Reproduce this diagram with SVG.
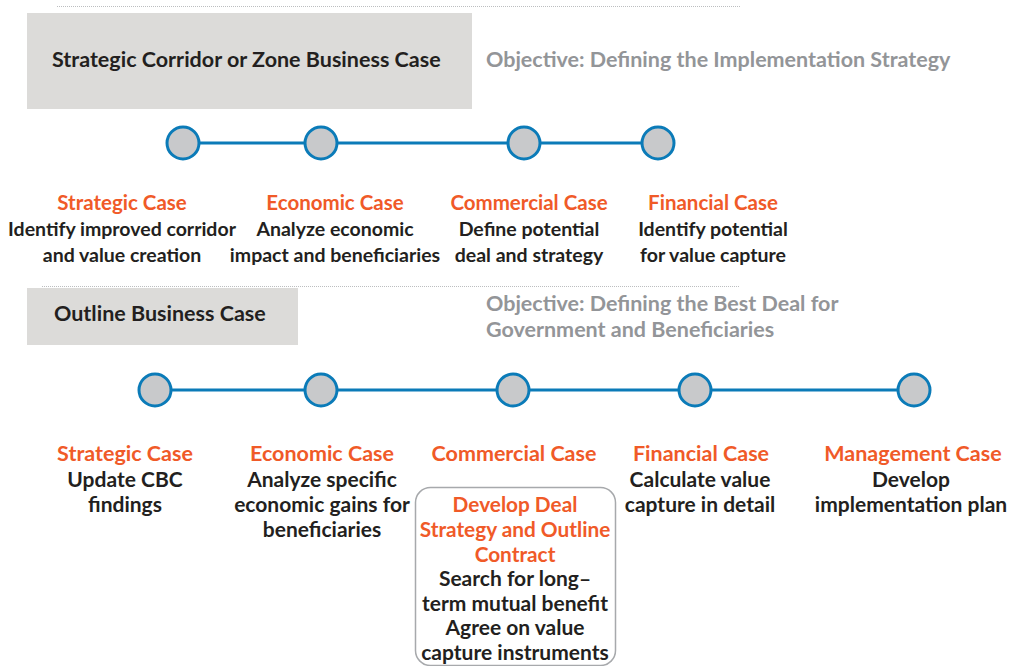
<svg xmlns="http://www.w3.org/2000/svg" width="1009" height="666" viewBox="0 0 1009 666">
<style>
text{font-family:Lato,"Open Sans","Liberation Sans",sans-serif;font-weight:bold}
.t{font-size:21.5px;fill:#231f20}
.obj{font-size:21.5px;fill:#939598}
.h{font-size:20.5px;fill:#f05a28;text-anchor:middle}
.b{font-size:19.5px;fill:#231f20;text-anchor:middle}
.h2{font-size:21.5px;fill:#f05a28;text-anchor:middle}
.b2{font-size:21px;fill:#231f20;text-anchor:middle}
.hb{font-size:20.8px;fill:#f05a28;text-anchor:middle}
.band{fill:#dcdbd9}
.dot{stroke:#bcbec0;stroke-width:1;stroke-dasharray:1 1;fill:none}
.node{fill:#c8c9cb;stroke:#0b7bb8;stroke-width:3}
.link{stroke:#0b7bb8;stroke-width:3;fill:none}
</style>
<rect width="1009" height="666" fill="#ffffff"/>
<g id="section1">
<line class="dot" x1="57" y1="6.5" x2="740" y2="6.5"/>
<rect class="band" x="27" y="13" width="445" height="96"/>
<text class="t" x="52" y="67">Strategic Corridor or Zone Business Case</text>
<text class="obj" x="486" y="67">Objective: Defining the Implementation Strategy</text>
</g>
<g id="connectors">
<line class="link" x1="183" y1="143" x2="658" y2="143"/>
<line class="link" x1="155" y1="390" x2="914" y2="390"/>
</g>
<g id="s1-strategic">
<circle class="node" cx="183" cy="143" r="16"/>
<text class="h" x="122" y="210">Strategic Case</text>
<text class="b" x="122" y="236">Identify improved corridor</text>
<text class="b" x="122" y="262">and value creation</text>
</g>
<g id="s1-economic">
<circle class="node" cx="321" cy="143" r="16"/>
<text class="h" x="335" y="210">Economic Case</text>
<text class="b" x="335" y="236">Analyze economic</text>
<text class="b" x="335" y="262">impact and beneficiaries</text>
</g>
<g id="s1-commercial">
<circle class="node" cx="524" cy="143" r="16"/>
<text class="h" x="529" y="210">Commercial Case</text>
<text class="b" x="529" y="236">Define potential</text>
<text class="b" x="529" y="262">deal and strategy</text>
</g>
<g id="s1-financial">
<circle class="node" cx="658" cy="143" r="16"/>
<text class="h" x="713" y="210">Financial Case</text>
<text class="b" x="713" y="236">Identify potential</text>
<text class="b" x="713" y="262">for value capture</text>
</g>
<g id="section2">
<line class="dot" x1="42" y1="286.5" x2="740" y2="286.5"/>
<rect class="band" x="27" y="288" width="271" height="57"/>
<text class="t" x="54" y="321">Outline Business Case</text>
<text class="obj" x="486" y="311">Objective: Defining the Best Deal for</text>
<text class="obj" x="486" y="337">Government and Beneficiaries</text>
</g>
<g id="s2-strategic">
<circle class="node" cx="155" cy="390" r="16"/>
<text class="h2" x="125" y="461">Strategic Case</text>
<text class="b2" x="125" y="487">Update CBC</text>
<text class="b2" x="125" y="512">findings</text>
</g>
<g id="s2-economic">
<circle class="node" cx="321" cy="390" r="16"/>
<text class="h2" x="322" y="461">Economic Case</text>
<text class="b2" x="322" y="487">Analyze specific</text>
<text class="b2" x="322" y="512">economic gains for</text>
<text class="b2" x="322" y="537">beneficiaries</text>
</g>
<g id="s2-commercial">
<circle class="node" cx="513" cy="390" r="16"/>
<text class="h2" x="514" y="461">Commercial Case</text>
<rect x="415.5" y="487.5" width="200" height="178" rx="15" fill="none" stroke="#a7a9ac" stroke-width="1.5"/>
<text class="hb" x="515" y="512">Develop Deal</text>
<text class="hb" x="515" y="537">Strategy and Outline</text>
<text class="hb" x="515" y="562">Contract</text>
<text class="b2" x="515" y="586">Search for long–</text>
<text class="b2" x="515" y="611">term mutual benefit</text>
<text class="b2" x="515" y="635">Agree on value</text>
<text class="b2" x="515" y="660">capture instruments</text>
</g>
<g id="s2-financial">
<circle class="node" cx="695" cy="390" r="16"/>
<text class="h2" x="701" y="461">Financial Case</text>
<text class="b2" x="700" y="487">Calculate value</text>
<text class="b2" x="700" y="512">capture in detail</text>
</g>
<g id="s2-management">
<circle class="node" cx="914" cy="390" r="16"/>
<text class="h2" x="913" y="461">Management Case</text>
<text class="b2" x="911" y="487">Develop</text>
<text class="b2" x="911" y="512">implementation plan</text>
</g>
</svg>
